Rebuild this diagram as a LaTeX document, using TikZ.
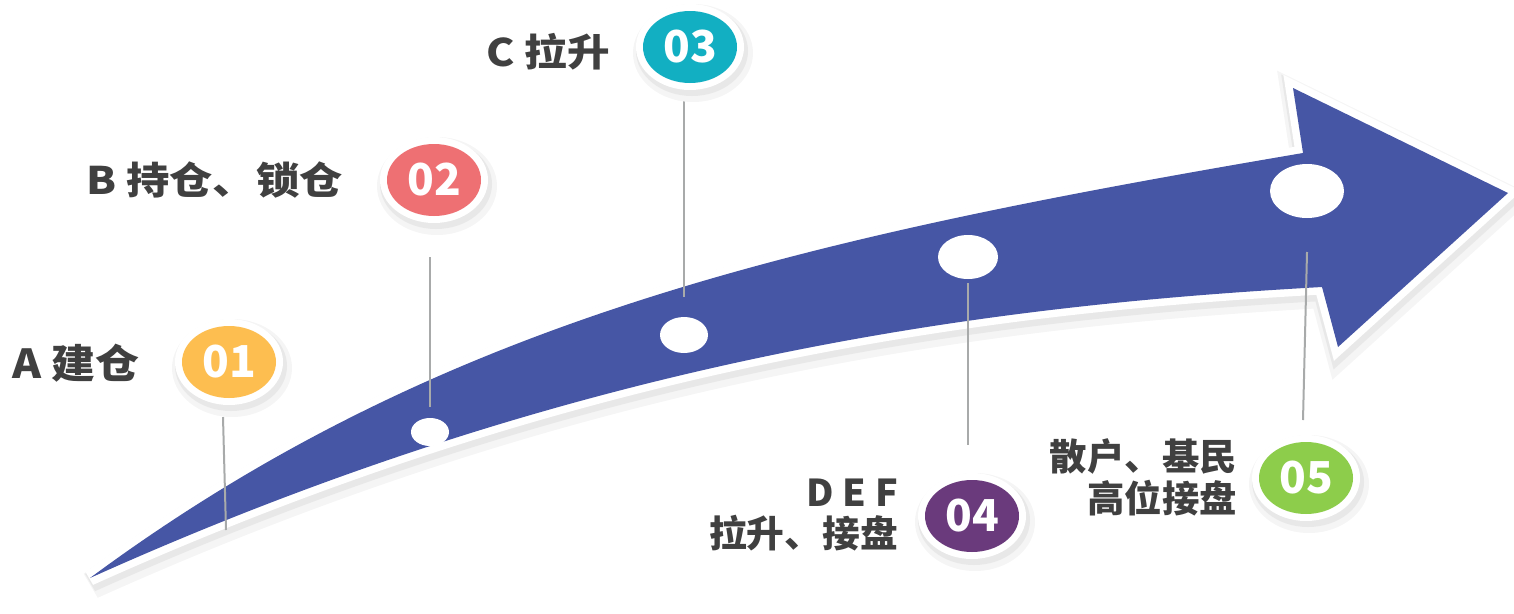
\documentclass[tikz,border=0pt]{standalone}
\usepackage{fontspec}
\usepackage{graphicx}
\setmainfont{Noto Sans CJK SC}
\usetikzlibrary{shapes.geometric}
\definecolor{arrowblue}{RGB}{70,86,165}
\definecolor{txtgray}{RGB}{64,64,64}
\definecolor{linegray}{RGB}{168,170,170}
\definecolor{cone}{RGB}{253,190,80}
\definecolor{ctwo}{RGB}{238,112,115}
\definecolor{cthree}{RGB}{18,175,194}
\definecolor{cfour}{RGB}{106,58,124}
\definecolor{cfive}{RGB}{141,205,75}
\newcommand\arrowshape[1]{%
  \path[#1] (90,578) .. controls (440,319) and (803,238) .. (1303,153)
  -- (1293,88) -- (1508,193) -- (1338,347) -- (1322,287)
  .. controls (1000,305) and (590,353) .. (90,578)
  -- cycle;}
\newcommand\badge[5]{%
  \fill[black!4] (#2+3,#3+6) ellipse [x radius=60,y radius=49];
  \fill[black!9] (#2+2,#3+4) ellipse [x radius=56,y radius=45];
  \fill[white] (#2,#3) ellipse [x radius=54,y radius=43];
  \node[numbadge, fill=#4] (#1) at (#2,#3) {#5};}
\tikzset{
  numbadge/.style={ellipse, minimum width=94pt, minimum height=72pt, inner sep=0pt, text=white, font=\fontsize{44}{44}\selectfont\bfseries},
  lbl/.style={inner sep=0pt, text=txtgray, font=\fontsize{38}{46}\selectfont\bfseries},
  conn/.style={draw=linegray, line width=2pt},
  dot/.style={fill=white}
}
\begin{document}
\begin{tikzpicture}[x=1pt,y=-1pt]
\useasboundingbox (0,0) rectangle (1514,613);
% arrow shadow, border, body
\arrowshape{fill=black!4,draw=black!4,line width=28pt,line join=miter,miter limit=4,shift={(2,7)}}
\arrowshape{fill=black!9,draw=black!9,line width=20pt,line join=miter,miter limit=4,shift={(1,4)}}
\arrowshape{draw=white,line width=15pt,line join=miter,miter limit=6}
\arrowshape{fill=arrowblue}
% dots on the arrow
\fill[dot] (430,432) ellipse [x radius=19,y radius=14];
\node[inner sep=0pt] (d2) at (430,432) {};
\fill[dot] (684,335) ellipse [x radius=24,y radius=18];
\node[inner sep=0pt] (d3) at (684,335) {};
\fill[dot] (968,257) ellipse [x radius=30,y radius=22];
\node[inner sep=0pt] (d4) at (968,257) {};
\fill[dot] (1307,191) ellipse [x radius=37,y radius=27];
\node[inner sep=0pt] (d5) at (1307,191) {};
% connector lines
\coordinate (c1a) at (223,417); \coordinate (c1b) at (226,530);
\coordinate (c2a) at (430,257); \coordinate (c2b) at (430,407);
\coordinate (c3a) at (684,95);  \coordinate (c3b) at (684,297);
\coordinate (c4a) at (968,283); \coordinate (c4b) at (968,445);
\coordinate (c5a) at (1307,252); \coordinate (c5b) at (1303,420);
\draw[conn] (c1a) -- (c1b);
\draw[conn] (c2a) -- (c2b);
\draw[conn] (c3a) -- (c3b);
\draw[conn] (c4a) -- (c4b);
\draw[conn] (c5a) -- (c5b);
% badges
\badge{b1}{229}{362}{cone}{01}
\badge{b2}{434}{180}{ctwo}{02}
\badge{b3}{690}{47}{cthree}{03}
\badge{b4}{972}{516}{cfour}{04}
\badge{b5}{1306}{478}{cfive}{05}
% labels
\node[lbl, anchor=west, font=\fontsize{40}{48}\selectfont\bfseries] (l1) at (12,363) {\scalebox{1.1}[1]{A 建仓}};
\node[lbl, anchor=east] (l2) at (343,180) {\scalebox{1.14}[1]{B 持仓、锁仓}};
\node[lbl, anchor=east] (l3) at (610,52) {\scalebox{1.12}[1]{C 拉升}};
\node[lbl, anchor=east, font=\fontsize{37}{45}\selectfont\bfseries] (l4) at (898,518) {\scalebox{1.02}[1]{\begin{tabular}{@{}r@{}}D E F\\[-4pt]拉升、接盘\end{tabular}}};
\node[lbl, anchor=east, font=\fontsize{37}{45}\selectfont\bfseries] (l5) at (1237,482) {\scalebox{1.01}[1]{\begin{tabular}{@{}r@{}}散户、基民\\[-4pt]高位接盘\end{tabular}}};
\end{tikzpicture}
\end{document}
